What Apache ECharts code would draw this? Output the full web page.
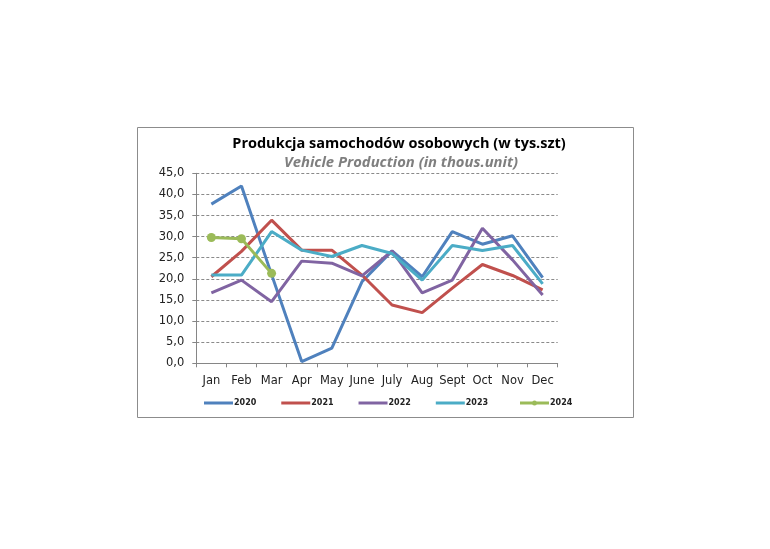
<!DOCTYPE html>
<html><head><meta charset="utf-8">
<script src="https://cdn.jsdelivr.net/npm/echarts@6/dist/echarts.min.js"></script>
<style>html,body{margin:0;padding:0;background:#fff;}#c{width:770px;height:549px;}</style>
</head><body><div id="c"></div>
<script>
const months = ['Jan','Feb','Mar','Apr','May','June','July','Aug','Sept','Oct','Nov','Dec'];
const s2020 = [37.7, 42.0, 21.0, 0.4, 3.6, 19.3, 26.6, 20.5, 31.2, 28.2, 30.2, 20.3];
const s2021 = [20.5, 26.5, 33.9, 26.8, 26.8, 20.9, 13.8, 12.0, 17.8, 23.4, 20.8, 17.4];
const s2022 = [16.7, 19.7, 14.6, 24.2, 23.7, 20.7, 26.6, 16.7, 19.7, 32.0, 24.5, 16.2];
const s2023 = [20.9, 20.9, 31.2, 26.8, 25.3, 27.9, 26.0, 19.7, 27.9, 26.7, 27.9, 18.8];
const s2024 = [29.8, 29.5, 21.3];
const seriesNames = ['2020','2021','2022','2023','2024'];
const colors = ['#4F81BD','#C0504D','#8064A2','#4BACC6','#9BBB59'];
const yTicks = {min:0, max:45, interval:5};
const titleText = 'Produkcja samochodów osobowych (w tys.szt)';
const subtitleText = 'Vehicle Production (in thous.unit)';

const chart = echarts.init(document.getElementById('c'));
const lineSeries = (name, data, color, sym) => ({
  name, type:'line', data,
  showSymbol: !!sym, symbol: sym ? 'circle' : 'none', symbolSize: 9,
  itemStyle:{color}, lineStyle:{color, width:3},
  emphasis:{disabled:true}, animation:false
});
const legendText = {fontFamily:'DejaVu Sans', fontWeight:'bold', fontSize:8, color:'#222', padding:[0,0,0,-4]};
const lineDotIcon = 'path://M0,1 L29,1 L29,4 L0,4 Z M12,2.5 A2.5,2.5 0 1,1 17,2.5 A2.5,2.5 0 1,1 12,2.5 Z';
chart.setOption({
  animation:false,
  color: colors,
  graphic:[
    {type:'rect', shape:{x:137.5,y:127.5,width:496,height:290}, style:{fill:'none', stroke:'#8c8c8c', lineWidth:1}, z:-1},
    {type:'text', x:399, y:143.5, style:{text:titleText, align:'center', verticalAlign:'middle',
      font:'bold 14.5px "Open Sans"', fill:'#000'}},
    {type:'text', x:401, y:162.5, style:{text:subtitleText, align:'center', verticalAlign:'middle',
      font:'italic bold 14.8px "Open Sans"', fill:'#7f7f7f'}}
  ],
  grid:{left:196.3, right:212.3, top:173.3, bottom:185.7, containLabel:false},
  xAxis:{type:'category', data:months, boundaryGap:true,
    axisLine:{lineStyle:{color:'#868686', width:1}},
    axisTick:{show:true, inside:false, length:4, alignWithLabel:false, lineStyle:{color:'#868686'}},
    axisLabel:{fontFamily:'DejaVu Sans', fontSize:11.5, color:'#222', margin:12, interval:0}
  },
  yAxis:{type:'value', min:yTicks.min, max:yTicks.max, interval:yTicks.interval,
    axisLine:{show:true, lineStyle:{color:'#868686', width:1}},
    axisTick:{show:true, length:4, lineStyle:{color:'#868686'}},
    splitLine:{lineStyle:{color:'#8a8a8a', type:[3,2], width:1}},
    axisLabel:{fontFamily:'DejaVu Sans', fontSize:11.5, color:'#222', margin:12,
      formatter:v=>v.toFixed(1).replace('.',',')}
  },
  legend:[
    {data:seriesNames.slice(0,4).map(n=>({name:n, icon:'rect'})), left:204, top:399, padding:0,
      itemWidth:29, itemHeight:3, itemGap:25, textStyle:legendText},
    {data:[{name:seriesNames[4], icon:lineDotIcon}], left:520, top:399, padding:0,
      itemWidth:29, itemHeight:5, textStyle:legendText}
  ],
  series:[
    lineSeries('2020', s2020, colors[0]),
    lineSeries('2021', s2021, colors[1]),
    lineSeries('2022', s2022, colors[2]),
    lineSeries('2023', s2023, colors[3]),
    lineSeries('2024', s2024, colors[4], true)
  ]
});
</script></body></html>
